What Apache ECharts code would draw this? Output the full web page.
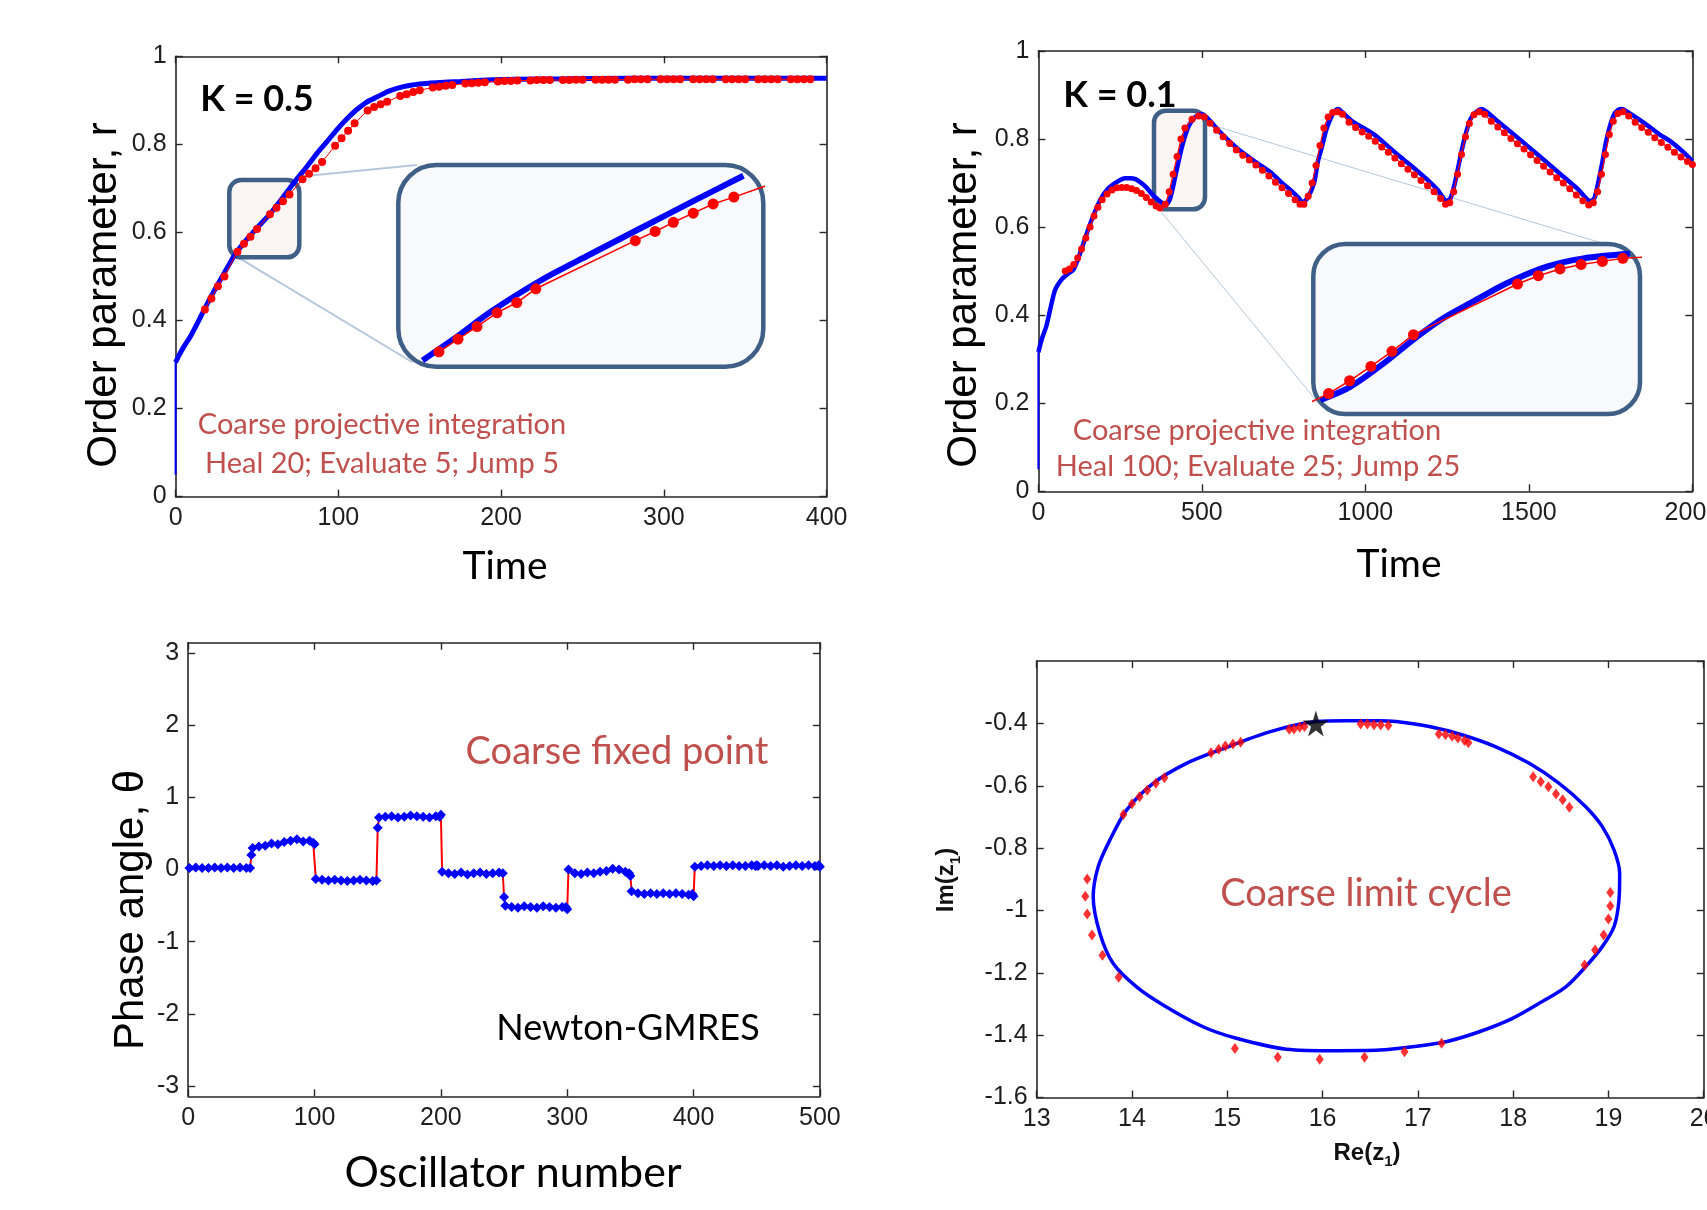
<!DOCTYPE html>
<html>
<head>
<meta charset="utf-8">
<title>Coarse projective integration / Newton-GMRES</title>
<script src="https://cdn.jsdelivr.net/npm/echarts@6/dist/echarts.min.js"></script>
<style>
  html, body { margin: 0; padding: 0; background: #fff; }
  #main { width: 1707px; height: 1210px; }
</style>
</head>
<body>
<div id="main"></div>
<script>
// ---- K = 0.5 panel (top left) ----
var jumpK05 = [0.05, 0.305];   // transient at t = 0
var timeK05 = [0, 2, 5, 9, 14, 19, 25, 31, 37, 43, 50, 58, 66, 74, 81, 87, 93, 99, 105, 111, 117, 124, 131, 140, 150, 160, 175, 191, 210, 240, 280, 330, 400];
var rBlueK05 = [0.305, 0.32, 0.34, 0.363, 0.398, 0.435, 0.476, 0.515, 0.553, 0.581, 0.610, 0.642, 0.680, 0.719, 0.751, 0.780, 0.806, 0.833, 0.857, 0.878, 0.895, 0.908, 0.921, 0.931, 0.937, 0.940, 0.943, 0.946, 0.948, 0.949, 0.950, 0.950, 0.950];
var timeRedK05 = [18, 22, 26, 30, 38, 42, 46, 50, 58, 62, 66, 70, 78, 82, 86, 90, 98, 102, 106, 110,
  118, 122, 126, 130, 138, 142, 146, 150, 158, 162, 166, 170, 178, 182, 186, 190, 198, 202, 206, 210,
  218, 222, 226, 230, 238, 242, 246, 250, 258, 262, 266, 270, 278, 282, 286, 290, 298, 302, 306, 310,
  318, 322, 326, 330, 338, 342, 346, 350, 358, 362, 366, 370, 378, 382, 386, 390];
var rRedK05 = [0.425, 0.45, 0.478, 0.50, 0.556, 0.574, 0.59, 0.608, 0.641, 0.656, 0.671, 0.686, 0.721, 0.733, 0.746, 0.76, 0.797, 0.814, 0.831, 0.848,
  0.877, 0.885, 0.891, 0.897, 0.910, 0.914, 0.919, 0.923, 0.929, 0.931, 0.933, 0.935, 0.938, 0.939, 0.940, 0.941, 0.943, 0.944, 0.944, 0.945,
  0.945, 0.946, 0.946, 0.946, 0.946, 0.946, 0.947, 0.947, 0.947, 0.947, 0.947, 0.947, 0.947, 0.948, 0.948, 0.948, 0.948, 0.948, 0.948, 0.948,
  0.948, 0.948, 0.948, 0.948, 0.948, 0.948, 0.948, 0.948, 0.948, 0.948, 0.948, 0.948, 0.948, 0.948, 0.948, 0.948];
// zoomed inset of K = 0.5
var insetTimeBlueK05 = [36.5, 40.4, 44.3, 50.1, 55.9, 61.6, 67.4, 73.6];
var insetRBlueK05 = [0.5485, 0.5688, 0.5905, 0.618, 0.6411, 0.6634, 0.6859, 0.7096];
var insetTimeRedK05 = [38.4, 40.6, 42.8, 45.1, 47.4, 49.6, 61.1, 63.4, 65.5, 67.8, 70.1, 72.5, 77.0];
var insetRRedK05 = [0.556, 0.567, 0.578, 0.590, 0.599, 0.611, 0.653, 0.661, 0.669, 0.677, 0.685, 0.691, 0.703];

// ---- K = 0.1 panel (top right) ----
var jumpK01 = [0.05, 0.316];
var timeK01 = [0, 10, 25, 50, 70, 90, 107, 120, 132, 150, 165, 190, 210, 231, 250, 264, 280, 297, 315, 330, 350, 364, 380, 392,
  405, 420, 440, 460, 480, 500, 520, 560, 612, 660, 711, 745, 777, 795, 808, 822, 843, 855, 868, 880, 893, 905, 917, 930, 960,
  1025, 1065, 1107, 1150, 1190, 1220, 1248, 1260, 1273, 1285, 1298, 1310, 1322, 1340, 1355, 1370, 1400, 1438, 1480, 1521, 1562,
  1603, 1650, 1688, 1700, 1711, 1724, 1736, 1748, 1760, 1773, 1785, 1800, 1851, 1900, 1934, 1970, 2000];
var rBlueK01 = [0.316, 0.345, 0.377, 0.455, 0.48, 0.494, 0.503, 0.525, 0.55, 0.59, 0.62, 0.663, 0.685, 0.698, 0.707, 0.711, 0.711, 0.709, 0.70, 0.69, 0.673, 0.663, 0.654, 0.652,
  0.67, 0.72, 0.785, 0.83, 0.85, 0.857, 0.845, 0.812, 0.776, 0.75, 0.724, 0.70, 0.68, 0.667, 0.656, 0.665, 0.70, 0.75, 0.785, 0.82, 0.846, 0.862, 0.868, 0.86, 0.84,
  0.811, 0.786, 0.759, 0.733, 0.707, 0.685, 0.66, 0.665, 0.698, 0.74, 0.785, 0.82, 0.846, 0.862, 0.868, 0.862, 0.843, 0.82, 0.794, 0.768, 0.742,
  0.716, 0.686, 0.659, 0.665, 0.698, 0.745, 0.794, 0.83, 0.855, 0.866, 0.868, 0.862, 0.837, 0.81, 0.794, 0.772, 0.75];
var timeRedK01 = [82, 95, 108, 120, 132, 145, 158, 170, 182, 195, 210, 225, 240, 255, 270, 285, 300, 315, 330, 345, 360, 372, 388, 400, 412, 424, 436, 448,
  470, 490, 507, 525, 545, 565, 585, 605, 625, 645, 665, 685, 705, 725, 745, 765, 785, 800, 812, 825, 837, 849, 861, 873, 886, 900, 915,
  930, 950, 970, 990, 1010, 1030, 1050, 1070, 1090, 1110, 1130, 1150, 1170, 1190, 1210, 1230, 1245, 1258, 1270, 1282, 1294, 1306, 1318, 1332, 1348,
  1365, 1385, 1405, 1425, 1445, 1465, 1485, 1505, 1525, 1545, 1565, 1585, 1605, 1625, 1645, 1665, 1683, 1697, 1710, 1722, 1734, 1746, 1758, 1772, 1788,
  1805, 1825, 1845, 1865, 1885, 1905, 1925, 1945, 1965, 1985, 2000];
var rRedK01 = [0.50, 0.505, 0.515, 0.53, 0.55, 0.575, 0.60, 0.625, 0.645, 0.662, 0.675, 0.684, 0.689, 0.69, 0.69, 0.687, 0.683, 0.676, 0.667, 0.657, 0.648, 0.643, 0.652, 0.68, 0.72, 0.76, 0.80, 0.825,
  0.845, 0.852, 0.85, 0.836, 0.82, 0.805, 0.79, 0.775, 0.763, 0.752, 0.741, 0.729, 0.716, 0.702, 0.689, 0.676, 0.662, 0.652, 0.652, 0.67, 0.70, 0.74, 0.785, 0.825, 0.85, 0.86, 0.862,
  0.856, 0.838, 0.826, 0.816, 0.806, 0.795, 0.782, 0.77, 0.757, 0.744, 0.731, 0.719, 0.706, 0.694, 0.68, 0.665, 0.652, 0.655, 0.68, 0.72, 0.765, 0.805, 0.835, 0.855, 0.862,
  0.856, 0.84, 0.827, 0.814, 0.801, 0.789, 0.777, 0.764, 0.751, 0.738, 0.725, 0.712, 0.70, 0.687, 0.673, 0.66, 0.65, 0.655, 0.68, 0.72, 0.765, 0.81, 0.84, 0.858, 0.862,
  0.852, 0.838, 0.826, 0.815, 0.803, 0.792, 0.781, 0.77, 0.759, 0.749, 0.742];
// zoomed inset of K = 0.1
var insetTimeBlueK01 = [358.3, 372.2, 387.7, 403.2, 415.6, 429.5, 445, 463.6, 480.6, 502.3];
var insetRBlueK01 = [0.6575, 0.675, 0.706, 0.741, 0.766, 0.788, 0.812, 0.834, 0.845, 0.851];
var insetTimeRedK01 = [352, 362.1, 371.9, 381.8, 391.6, 401.6, 450, 459.7, 469.8, 479.6, 489.5, 499, 512];
var insetRRedK01 = [0.652, 0.666, 0.683, 0.702, 0.722, 0.744, 0.811, 0.822, 0.831, 0.837, 0.841, 0.845, 0.847];

// ---- coarse fixed point (bottom left) ----
var oscNumber = [1, 6, 11, 16, 21, 26, 31, 36, 41, 46, 49, 50,
  51, 56, 61, 66, 71, 76, 81, 86, 91, 96, 99, 100,
  101, 106, 111, 116, 121, 126, 131, 136, 141, 146, 149, 150,
  151, 156, 161, 166, 171, 176, 181, 186, 191, 196, 199, 200,
  201, 206, 211, 216, 221, 226, 231, 236, 241, 246, 249, 250,
  251, 256, 261, 266, 271, 276, 281, 286, 291, 296, 299, 300,
  301, 306, 311, 316, 321, 326, 331, 336, 341, 346, 349, 350,
  351, 356, 361, 366, 371, 376, 381, 386, 391, 396, 399, 400,
  401, 406, 411, 416, 421, 426, 431, 436, 441, 446, 449, 450,
  451, 456, 461, 466, 471, 476, 481, 486, 491, 496, 499, 500];
var phaseAngle = [0.02, 0.03, 0.02, 0.02, 0.03, 0.02, 0.03, 0.02, 0.03, 0.02, 0.02, 0.20,
  0.30, 0.32, 0.33, 0.36, 0.35, 0.38, 0.40, 0.42, 0.39, 0.40, 0.37, 0.35,
  -0.13, -0.14, -0.15, -0.14, -0.15, -0.16, -0.15, -0.14, -0.15, -0.16, -0.15, 0.58,
  0.72, 0.73, 0.74, 0.72, 0.73, 0.75, 0.74, 0.73, 0.72, 0.74, 0.73, 0.76,
  -0.03, -0.05, -0.06, -0.04, -0.07, -0.05, -0.04, -0.06, -0.05, -0.04, -0.05, -0.38,
  -0.50, -0.52, -0.53, -0.51, -0.52, -0.53, -0.51, -0.52, -0.53, -0.52, -0.52, -0.55,
  0.00, -0.05, -0.06, -0.04, -0.05, -0.03, -0.02, 0.01, 0.00, -0.03, -0.05, -0.09,
  -0.30, -0.33, -0.34, -0.33, -0.34, -0.33, -0.34, -0.33, -0.34, -0.35, -0.34, -0.37,
  0.04, 0.05, 0.06, 0.05, 0.06, 0.05, 0.06, 0.05, 0.05, 0.06, 0.05, 0.06,
  0.05, 0.06, 0.05, 0.06, 0.04, 0.05, 0.06, 0.05, 0.06, 0.05, 0.06, 0.04];
var phaseTicks = [-3, -2, -1, 0, 1, 2, 3];

// ---- coarse limit cycle (bottom right) ----
var cycleRe = [16.247, 16.597, 16.772, 17.12, 17.47, 17.819, 18.169, 18.483, 18.762, 18.936, 19.059, 19.118, 19.111, 19.059,
  18.936, 18.762, 18.553, 18.273, 17.994, 17.645, 17.295, 16.946, 16.597, 16.143, 15.619, 15.095, 14.745, 14.326, 14.048,
  13.803, 13.663, 13.593, 13.645, 13.768, 13.943, 14.222, 14.571, 14.92, 15.444, 15.933, 16.247];
var cycleIm = [-0.391, -0.391, -0.394, -0.41, -0.437, -0.475, -0.528, -0.592, -0.667, -0.731, -0.806, -0.881, -0.966, -1.052,
  -1.116, -1.18, -1.245, -1.298, -1.346, -1.389, -1.421, -1.437, -1.448, -1.45, -1.445, -1.41, -1.373, -1.303, -1.245,
  -1.17, -1.073, -0.956, -0.86, -0.774, -0.678, -0.592, -0.528, -0.485, -0.427, -0.394, -0.391];
var dotsRe = [15.65, 15.70, 15.76, 15.81, 14.83, 14.91, 14.98, 15.06, 15.14, 13.91, 14.00, 14.08, 14.16, 14.25, 14.34,
  16.40, 16.47, 16.54, 16.61, 16.69, 17.22, 17.29, 17.36, 17.42, 17.49, 17.53, 18.21, 18.29, 18.37, 18.45, 18.52, 18.59,
  19.02, 19.02, 19.00, 18.95, 18.86, 18.75, 13.53, 13.51, 13.53, 13.58, 13.69, 13.86, 15.08, 15.53, 15.97, 16.44, 16.86, 17.25];
var dotsIm = [-0.419, -0.418, -0.412, -0.41, -0.494, -0.483, -0.472, -0.466, -0.46, -0.692, -0.658, -0.635, -0.614, -0.592, -0.574,
  -0.402, -0.402, -0.404, -0.405, -0.407, -0.434, -0.436, -0.441, -0.447, -0.455, -0.462, -0.571, -0.587, -0.603, -0.626, -0.645, -0.669,
  -0.942, -0.986, -1.027, -1.079, -1.127, -1.175, -0.899, -0.954, -1.011, -1.079, -1.144, -1.214, -1.443, -1.471, -1.477, -1.471, -1.453, -1.426];
var starRe = [15.93];
var starIm = [-0.40];

function zip(xs, ys) {
  return xs.map(function (x, i) { return [x, ys[i]]; });
}

var BLUE = '#0000ff';
var RED = '#ff0000';
var NOTE_RED = '#c0504d';
var FRAME = '#3f5f86';
var LINK = '#b6c7dc';

var lineStyle = { color: '#262626', width: 1.6 };
var tickStyle = { inside: true, length: 7, lineStyle: { color: '#262626', width: 1.4 } };
var labelFont = { color: '#1e1e1e', fontFamily: 'Liberation Sans', fontSize: 25, margin: 9,
  formatter: function (v) { return String(+v.toFixed(6)); } };

// bottom/left axis with labels plus a mirrored top/right axis, like a boxed matlab plot
function xPair(grid, min, max, interval, extra) {
  var base = { type: 'value', gridIndex: grid, min: min, max: max, interval: interval, splitLine: { show: false },
    axisLine: { onZero: false, lineStyle: lineStyle }, axisTick: tickStyle };
  var bottom = Object.assign({}, base, { position: 'bottom', axisLabel: Object.assign({}, labelFont, extra || {}) });
  var top = Object.assign({}, base, { position: 'top', axisLabel: { show: false } });
  return [bottom, top];
}
function yPair(grid, min, max, interval, labelExtra, tickExtra) {
  var base = { type: 'value', gridIndex: grid, min: min, max: max, interval: interval, splitLine: { show: false },
    axisLine: { onZero: false, lineStyle: lineStyle }, axisTick: Object.assign({}, tickStyle, tickExtra || {}) };
  var left = Object.assign({}, base, { position: 'left', axisLabel: Object.assign({}, labelFont, labelExtra || {}) });
  var right = Object.assign({}, base, { position: 'right', axisLabel: { show: false } });
  return [left, right];
}
function hidden(grid, min, max) {
  return { type: 'value', gridIndex: grid, min: min, max: max, show: false, splitLine: { show: false } };
}

var xAxes = [].concat(
  xPair(0, 0, 400, 100),
  xPair(1, 0, 2000, 500),
  xPair(2, 0, 500, 100),
  xPair(3, 13, 20, 1),
  [hidden(4, 33.7, 75.9), hidden(5, 355, 507)]
);
var yAxes = [].concat(
  yPair(0, 0, 1, 0.2),
  yPair(1, 0, 1, 0.2),
  yPair(2, -Math.PI, Math.PI, null, { customValues: phaseTicks }, { customValues: phaseTicks }),
  yPair(3, -1.6, -0.2, 0.2, { showMaxLabel: false }),
  [hidden(4, 0.543, 0.719), hidden(5, 0.639, 0.864)]
);
delete yAxes[4].interval;
delete yAxes[5].interval;

function text(x, y, str, font, color, extra) {
  return Object.assign({
    type: 'text', x: x, y: y, z: 100,
    style: { text: str, font: font, fill: color || '#000', align: 'center', verticalAlign: 'middle',
      textAlign: 'center', textVerticalAlign: 'middle' }
  }, extra || {});
}
function box(x, y, w, h, r, fill) {
  return { type: 'rect', z: 1, shape: { x: x, y: y, width: w, height: h, r: r },
    style: { fill: fill, stroke: FRAME, lineWidth: 4.5 } };
}
function link(x1, y1, x2, y2, w) {
  return { type: 'line', z: 0, shape: { x1: x1, y1: y1, x2: x2, y2: y2 }, style: { stroke: LINK, lineWidth: w } };
}

var subRich = {
  n: { font: 'bold 24px "Liberation Sans"', fill: '#111' },
  s: { font: 'bold 15px "Liberation Sans"', fill: '#111', padding: [18, 0, 0, 0] }
};

function grid(left, top, width, height) {
  return { left: left, top: top, width: width, height: height, containLabel: false, outerBoundsMode: 'none' };
}

var chart = echarts.init(document.getElementById('main'));
chart.setOption({
  animation: false,
  backgroundColor: '#ffffff',
  grid: [
    grid(175.6, 56.3, 651, 440.3),
    grid(1038.4, 50.9, 654, 440.4),
    grid(188.2, 642.8, 631.7, 453.5),
    grid(1036.7, 661.1, 667, 436.4),
    grid(398.3, 165, 365, 201.7),
    grid(1313.3, 244, 326.7, 170)
  ],
  xAxis: xAxes,
  yAxis: yAxes,
  series: [
    // K = 0.5
    { type: 'line', xAxisIndex: 0, yAxisIndex: 0, data: zip([0, 0], jumpK05), showSymbol: false,
      lineStyle: { color: BLUE, width: 2 }, z: 3 },
    { type: 'line', xAxisIndex: 0, yAxisIndex: 0, data: zip(timeK05, rBlueK05), showSymbol: false, smooth: 0.25,
      lineStyle: { color: BLUE, width: 5 }, z: 3 },
    { type: 'line', xAxisIndex: 0, yAxisIndex: 0, data: zip(timeRedK05, rRedK05), symbol: 'circle', symbolSize: 8,
      itemStyle: { color: RED }, lineStyle: { color: RED, width: 1 }, z: 4 },
    { type: 'line', xAxisIndex: 8, yAxisIndex: 8, data: zip(insetTimeBlueK05, insetRBlueK05), showSymbol: false, smooth: 0.3,
      lineStyle: { color: BLUE, width: 6 }, z: 5 },
    { type: 'line', xAxisIndex: 8, yAxisIndex: 8, data: zip(insetTimeRedK05, insetRRedK05), symbol: 'circle', symbolSize: 11,
      itemStyle: { color: RED }, lineStyle: { color: RED, width: 1.5 }, z: 6 },
    // K = 0.1
    { type: 'line', xAxisIndex: 2, yAxisIndex: 2, data: zip([0, 0], jumpK01), showSymbol: false,
      lineStyle: { color: BLUE, width: 2 }, z: 3 },
    { type: 'line', xAxisIndex: 2, yAxisIndex: 2, data: zip(timeK01, rBlueK01), showSymbol: false, smooth: 0.25,
      lineStyle: { color: BLUE, width: 4.5 }, z: 3 },
    { type: 'line', xAxisIndex: 2, yAxisIndex: 2, data: zip(timeRedK01, rRedK01), symbol: 'circle', symbolSize: 7,
      itemStyle: { color: RED }, lineStyle: { color: RED, width: 1.2 }, z: 4 },
    { type: 'line', xAxisIndex: 9, yAxisIndex: 9, data: zip(insetTimeBlueK01, insetRBlueK01), showSymbol: false, smooth: 0.3,
      lineStyle: { color: BLUE, width: 6 }, z: 5 },
    { type: 'line', xAxisIndex: 9, yAxisIndex: 9, data: zip(insetTimeRedK01, insetRRedK01), symbol: 'circle', symbolSize: 11,
      itemStyle: { color: RED }, lineStyle: { color: RED, width: 1.5 }, z: 6 },
    // coarse fixed point
    { type: 'line', xAxisIndex: 4, yAxisIndex: 4, data: zip(oscNumber, phaseAngle), symbol: 'diamond', symbolSize: 10,
      itemStyle: { color: BLUE }, lineStyle: { color: RED, width: 2 }, z: 3 },
    // coarse limit cycle
    { type: 'line', xAxisIndex: 6, yAxisIndex: 6, data: zip(cycleRe, cycleIm), showSymbol: false, smooth: 0.3,
      lineStyle: { color: BLUE, width: 3.5 }, z: 3 },
    { type: 'scatter', xAxisIndex: 6, yAxisIndex: 6, data: zip(dotsRe, dotsIm), symbol: 'diamond', symbolSize: [8, 11],
      itemStyle: { color: RED }, z: 4 },
    { type: 'scatter', xAxisIndex: 6, yAxisIndex: 6, data: zip(starRe, starIm),
      symbol: 'path://M50,0 L61,35 L98,35 L68,57 L79,91 L50,70 L21,91 L32,57 L2,35 L39,35 Z', symbolSize: 26,
      itemStyle: { color: '#000' }, z: 5 }
  ],
  graphic: [
    link(298.3, 176.7, 416.7, 165, 2),
    link(236.7, 256.7, 412, 362, 2),
    link(1205, 123, 1605, 244, 1),
    link(1158, 208, 1320, 405, 1),
    box(229.3, 180, 70, 77.3, 12, 'rgba(250,243,242,0.85)'),
    box(398.3, 165, 365, 201.7, 38, '#f7f9fc'),
    box(1154, 110.7, 51, 98.6, 12, 'rgba(250,243,242,0.85)'),
    box(1313.3, 244, 326.7, 170, 32, '#f7f9fc'),

    text(257, 99, 'K = 0.5', 'bold 36px Lato', '#000'),
    text(1120, 95, 'K = 0.1', 'bold 36px Lato', '#000'),
    text(382, 425, 'Coarse projective integration', '29px Lato', NOTE_RED),
    text(382, 464, 'Heal 20; Evaluate 5; Jump 5', '29px Lato', NOTE_RED),
    text(1257, 431, 'Coarse projective integration', '29px Lato', NOTE_RED),
    text(1258, 467, 'Heal 100; Evaluate 25; Jump 25', '29px Lato', NOTE_RED),
    text(617, 752, 'Coarse fixed point', '38px Lato', NOTE_RED),
    text(628, 1028, 'Newton-GMRES', '36px Lato', '#000'),
    text(1366, 894, 'Coarse limit cycle', '38px Lato', NOTE_RED),

    text(505, 566, 'Time', '39px Lato', '#000'),
    text(1399, 564, 'Time', '39px Lato', '#000'),
    text(513, 1173, 'Oscillator number', '43px Lato', '#000'),
    text(104, 295, 'Order parameter, r', '42px "Liberation Sans"', '#000', { rotation: Math.PI / 2 }),
    text(964, 295, 'Order parameter, r', '42px "Liberation Sans"', '#000', { rotation: Math.PI / 2 }),
    text(131.7, 910, 'Phase angle, \u03b8', '42px "Liberation Sans"', '#000', { rotation: Math.PI / 2 }),
    {
      type: 'text', x: 1367, y: 1153, z: 100,
      style: { text: '{n|Re(z}{s|1}{n|)}', rich: subRich, align: 'center', verticalAlign: 'middle',
        textAlign: 'center', textVerticalAlign: 'middle' }
    },
    {
      type: 'text', x: 946.5, y: 880, z: 100, rotation: Math.PI / 2,
      style: { text: '{n|Im(z}{s|1}{n|)}', rich: subRich, align: 'center', verticalAlign: 'middle',
        textAlign: 'center', textVerticalAlign: 'middle' }
    }
  ]
});
</script>
</body>
</html>
